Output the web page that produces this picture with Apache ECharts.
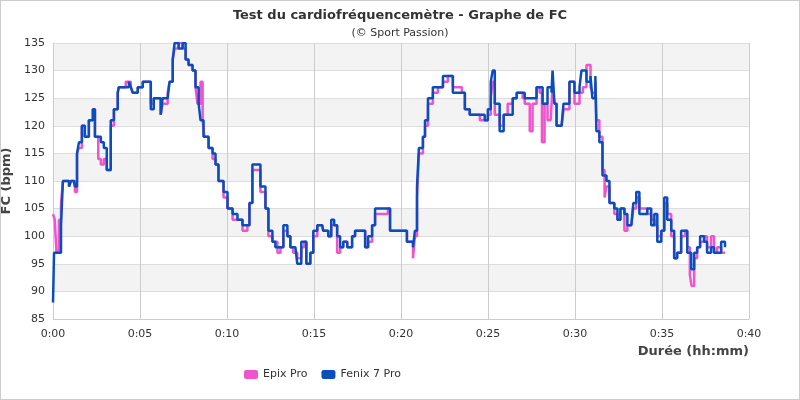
<!DOCTYPE html>
<html>
<head>
<meta charset="utf-8">
<script src="https://cdn.jsdelivr.net/npm/echarts@6/dist/echarts.min.js"></script>
<style>
  html, body { margin: 0; padding: 0; }
  #chart { width: 800px; height: 400px; box-sizing: border-box; border: 1px solid #ccc; }
</style>
</head>
<body>
<div id="chart"></div>
<script>
// [minutes, bpm]
var fenixData = [
  [0, 88], [0.06, 97], [0.34, 97], [0.46, 102], [0.57, 110], [0.92, 109], [1.03, 110], [1.2, 110], [1.26, 109],
  [1.38, 115], [1.49, 117], [1.66, 120], [1.83, 118], [2.06, 121], [2.29, 123], [2.41, 118], [2.75, 117],
  [2.92, 116], [3.09, 112], [3.32, 121], [3.5, 123], [3.72, 126], [3.78, 127], [4.18, 127], [4.36, 128],
  [4.47, 127], [4.58, 126], [4.87, 127], [5.16, 128], [5.5, 128], [5.62, 123], [5.79, 125], [6.07, 125],
  [6.19, 122], [6.3, 125], [6.59, 125], [6.7, 128], [6.88, 132], [6.99, 135], [7.22, 134], [7.45, 135],
  [7.62, 132], [7.79, 131], [8.02, 130], [8.19, 127], [8.37, 124], [8.48, 121], [8.65, 118], [8.94, 116],
  [9.17, 115], [9.34, 113], [9.51, 110], [9.8, 108], [10.03, 105], [10.32, 104], [10.6, 103], [10.89, 102],
  [11.17, 102], [11.29, 106], [11.46, 113], [11.75, 113], [11.92, 109], [12.21, 105], [12.38, 101], [12.61, 99],
  [12.78, 98], [13.07, 98], [13.24, 102], [13.47, 100], [13.64, 98], [13.93, 98], [14.04, 95], [14.27, 99],
  [14.44, 99], [14.56, 95], [14.79, 97], [14.96, 101], [15.19, 102], [15.47, 102], [15.53, 101], [15.82, 100],
  [15.99, 103], [16.16, 102], [16.33, 100], [16.5, 98], [16.68, 99], [16.91, 98], [17.19, 100], [17.36, 101],
  [17.77, 101], [17.94, 98], [18.11, 100], [18.34, 102], [18.51, 105], [19.25, 105], [19.37, 101], [20.11, 101],
  [20.34, 99], [20.69, 98], [20.8, 101], [20.92, 109], [21.03, 116], [21.26, 118], [21.38, 121], [21.55, 125],
  [21.83, 127], [22.12, 127], [22.41, 129], [22.69, 129], [22.98, 126], [23.5, 126], [23.67, 123], [23.95, 122],
  [24.53, 122], [24.81, 121], [24.99, 123], [25.16, 128], [25.27, 130], [25.39, 124], [25.67, 119], [25.9, 122],
  [26.13, 122], [26.42, 125], [26.65, 126], [26.99, 126], [27.11, 125], [27.56, 125], [27.79, 127], [27.97, 127],
  [28.14, 124], [28.42, 127], [28.65, 126], [28.71, 130], [28.82, 124], [28.94, 120], [29.23, 120], [29.34, 124],
  [29.68, 128], [29.97, 126], [30.26, 127], [30.37, 130], [30.66, 128], [30.89, 129], [31.0, 125], [31.17, 129],
  [31.23, 119], [31.4, 117], [31.58, 111], [31.81, 110], [31.98, 106], [32.26, 105], [32.44, 103], [32.61, 105],
  [32.84, 104], [33.01, 102], [33.24, 102], [33.35, 106], [33.52, 108], [33.7, 104], [34.15, 105], [34.38, 102],
  [34.56, 104], [34.73, 99], [34.96, 101], [35.13, 107], [35.3, 103], [35.53, 101], [35.7, 96], [35.87, 97],
  [36.1, 101], [36.33, 101], [36.45, 97], [36.68, 94], [36.85, 97], [37.02, 98], [37.19, 100], [37.42, 99],
  [37.59, 97], [37.82, 98], [37.99, 97], [38.17, 97], [38.4, 99], [38.62, 98]
];

var epixData = [
  [0, 104], [0.1, 103], [0.2, 97], [0.34, 103], [0.46, 106], [0.57, 110], [0.92, 109], [1.03, 110], [1.26, 108],
  [1.38, 115], [1.49, 116], [1.66, 120], [1.83, 118], [2.06, 121], [2.29, 123], [2.41, 118], [2.6, 114],
  [2.75, 113], [2.92, 114], [3.09, 112], [3.32, 120], [3.5, 123], [3.72, 126], [3.78, 127], [4.18, 128],
  [4.47, 127], [4.58, 126], [4.87, 127], [5.16, 128], [5.5, 128], [5.62, 124], [5.79, 125], [6.07, 125],
  [6.19, 122], [6.3, 124], [6.59, 126], [6.7, 128], [6.88, 132], [6.99, 134], [7.22, 135], [7.45, 134],
  [7.62, 132], [7.79, 131], [8.02, 130], [8.19, 127], [8.3, 124], [8.48, 128], [8.6, 121], [8.7, 118],
  [8.94, 116], [9.17, 114], [9.34, 113], [9.51, 110], [9.8, 107], [10.03, 105], [10.32, 103], [10.6, 103],
  [10.89, 101], [11.17, 102], [11.29, 106], [11.46, 112], [11.75, 112], [11.92, 108], [12.21, 105], [12.38, 100],
  [12.61, 99], [12.9, 97], [13.07, 98], [13.24, 101], [13.47, 100], [13.64, 98], [13.8, 97], [14.04, 96],
  [14.27, 98], [14.44, 99], [14.56, 95], [14.79, 97], [14.96, 100], [15.19, 102], [15.47, 102], [15.53, 101],
  [15.82, 100], [15.99, 102], [16.16, 102], [16.33, 97], [16.5, 98], [16.68, 99], [16.91, 98], [17.19, 100],
  [17.36, 101], [17.77, 101], [17.94, 98], [18.11, 99], [18.34, 102], [18.51, 104], [19.25, 105], [19.37, 101],
  [20.11, 101], [20.34, 99], [20.69, 96], [20.8, 100], [20.92, 107], [21.03, 115], [21.26, 118], [21.38, 120],
  [21.55, 124], [21.83, 126], [22.12, 127], [22.41, 128], [22.69, 129], [22.98, 127], [23.5, 126], [23.67, 123],
  [23.95, 122], [24.53, 121], [24.81, 121], [24.99, 122], [25.16, 125], [25.27, 128], [25.39, 122], [25.67, 120],
  [25.9, 122], [26.13, 124], [26.42, 125], [26.65, 126], [26.99, 125], [27.11, 124], [27.4, 119], [27.56, 124],
  [27.79, 127], [27.97, 126], [28.1, 117], [28.25, 124], [28.42, 121], [28.6, 121], [28.71, 127], [28.82, 124],
  [28.94, 120], [29.23, 120], [29.34, 123], [29.68, 128], [29.97, 124], [30.26, 126], [30.45, 127], [30.66, 131],
  [30.89, 127], [31.0, 126], [31.17, 128], [31.23, 121], [31.4, 118], [31.58, 112], [31.7, 107], [31.81, 109],
  [31.98, 106], [32.26, 104], [32.44, 103], [32.61, 105], [32.84, 101], [33.01, 102], [33.24, 102], [33.35, 105],
  [33.52, 107], [33.7, 105], [34.15, 104], [34.38, 103], [34.56, 102], [34.73, 100], [34.96, 101], [35.13, 106],
  [35.3, 104], [35.53, 100], [35.7, 96], [35.87, 97], [36.1, 100], [36.33, 101], [36.45, 98], [36.6, 93],
  [36.7, 91], [36.85, 96], [37.02, 98], [37.19, 99], [37.42, 100], [37.59, 98], [37.82, 100], [37.99, 97],
  [38.17, 98], [38.4, 97], [38.62, 97]
];

var seriesNames = ['Epix Pro', 'Fenix 7 Pro'];
var seriesColors = ['#ee55cc', '#0a4dbd'];

function fmtTime(v) {
  var m = Math.round(v);
  return '0:' + (m < 10 ? '0' + m : m);
}

var chart = echarts.init(document.getElementById('chart'));
chart.setOption({
  animation: false,
  textStyle: { fontFamily: 'DejaVu Sans' },
  title: {
    text: 'Test du cardiofréquencemètre - Graphe de FC',
    subtext: '(© Sport Passion)',
    left: 'center',
    top: 3,
    itemGap: 6,
    textStyle: { fontSize: 13, fontWeight: 'bold', color: '#333' },
    subtextStyle: { fontSize: 11, color: '#333' }
  },
  legend: {
    bottom: 14,
    left: 238,
    itemWidth: 14,
    itemHeight: 9,
    itemGap: 14,
    icon: 'roundRect',
    textStyle: { fontSize: 11, color: '#333' },
    data: seriesNames
  },
  grid: { left: 52, right: 50, top: 42, bottom: 80, outerBoundsMode: 'none', containLabel: false },
  xAxis: {
    type: 'value',
    min: 0, max: 40, interval: 5,
    name: 'Durée (hh:mm)',
    nameLocation: 'end',
    nameGap: 0,
    nameTextStyle: { fontWeight: 'bold', fontSize: 13, color: '#444', align: 'right', verticalAlign: 'top', padding: [26, 0, 0, 0] },
    axisLine: { lineStyle: { color: '#ccc' } },
    axisTick: { show: false },
    axisLabel: { formatter: fmtTime, fontSize: 11, color: '#333', margin: 10 },
    splitLine: { show: true, lineStyle: { color: '#ccc' } }
  },
  yAxis: {
    type: 'value',
    min: 85, max: 135, interval: 5,
    name: 'FC (bpm)',
    nameLocation: 'middle',
    nameGap: 36,
    nameTextStyle: { fontWeight: 'bold', fontSize: 13, color: '#444' },
    axisLine: { show: true, lineStyle: { color: '#ccc' } },
    axisTick: { show: false },
    axisLabel: { fontSize: 11, color: '#333', margin: 8 },
    splitLine: { show: true, lineStyle: { color: '#ddd' } },
    splitArea: { show: true, areaStyle: { color: ['#ffffff', '#f3f3f3'] } }
  },
  series: [
    {
      name: seriesNames[0], type: 'line', step: 'end', data: epixData,
      showSymbol: false, color: seriesColors[0], lineStyle: { width: 2.5 }
    },
    {
      name: seriesNames[1], type: 'line', step: 'end', data: fenixData,
      showSymbol: false, color: seriesColors[1], lineStyle: { width: 2.5 }
    }
  ]
});
</script>
</body>
</html>
